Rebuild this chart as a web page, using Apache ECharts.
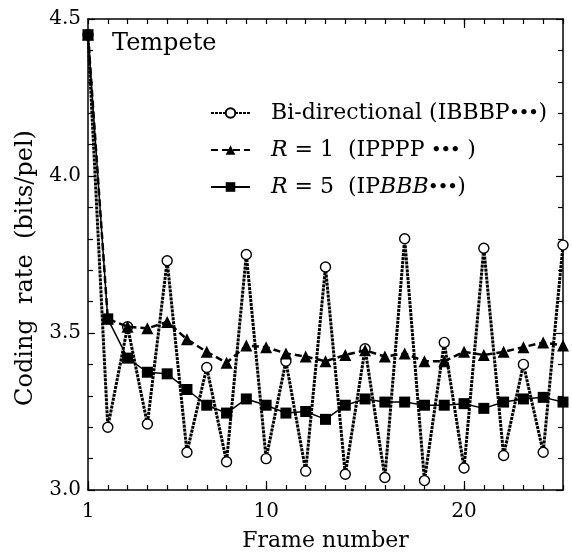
<!DOCTYPE html>
<html>
<head>
<meta charset="utf-8">
<script src="https://cdn.jsdelivr.net/npm/echarts@6/dist/echarts.min.js"></script>
<style>
  html, body { margin: 0; padding: 0; background: #fff; }
  #chart { width: 572px; height: 557px; }
</style>
</head>
<body>
<div id="chart"></div>
<script>
// frame numbers 1..25
var frames = [1, 2, 3, 4, 5, 6, 7, 8, 9, 10, 11, 12, 13, 14, 15, 16, 17, 18, 19, 20, 21, 22, 23, 24, 25];
// bits/pel
var biDirectional = [4.45, 3.20, 3.52, 3.21, 3.73, 3.12, 3.39, 3.09, 3.75, 3.10, 3.41, 3.06, 3.71, 3.05, 3.45, 3.04, 3.80, 3.03, 3.47, 3.07, 3.77, 3.11, 3.40, 3.12, 3.78];
var rateR1 = [4.45, 3.545, 3.52, 3.515, 3.535, 3.48, 3.44, 3.405, 3.46, 3.455, 3.435, 3.425, 3.41, 3.43, 3.445, 3.425, 3.435, 3.41, 3.41, 3.44, 3.43, 3.44, 3.455, 3.47, 3.46];
var rateR5 = [4.45, 3.545, 3.42, 3.375, 3.37, 3.32, 3.27, 3.245, 3.29, 3.27, 3.245, 3.25, 3.225, 3.27, 3.29, 3.28, 3.28, 3.27, 3.27, 3.275, 3.26, 3.28, 3.29, 3.295, 3.28];
var xLabels = [1, 10, 20];
var seriesNames = ['Bi-directional (IBBBP•••)', 'R = 1  (IPPPP •••)', 'R = 5  (IPBBB•••)'];

var font = 'DejaVu Serif';
var chart = echarts.init(document.getElementById('chart'), null, { renderer: 'canvas' });

function pairs(vals) {
  return frames.map(function (f, i) { return [f, vals[i]]; });
}

// shared look for the four framing axes (ticks point inside)
function frameAxis(extra) {
  var base = {
    axisLine: { show: true, lineStyle: { color: '#000', width: 1.5 } },
    axisTick: { show: true, inside: true, length: 5, lineStyle: { color: '#000', width: 1.2 } },
    axisLabel: { show: false },
    splitLine: { show: false }
  };
  return Object.assign(base, extra);
}

var option = {
  animation: false,
  backgroundColor: '#fff',
  textStyle: { fontFamily: font, color: '#000' },
  title: {
    text: 'Tempete',
    left: 107, top: 27,
    textStyle: { fontFamily: font, fontSize: 24, fontWeight: 'normal', color: '#000' }
  },
  legend: {
    orient: 'vertical',
    left: 210, top: 100,
    padding: 0,
    itemWidth: 39, itemHeight: 12,
    itemGap: 11,
    data: seriesNames,
    textStyle: {
      fontFamily: font, fontSize: 22, color: '#000', lineHeight: 26,
      padding: [0, 0, 0, 16],
      rich: {
        i: { fontFamily: font, fontStyle: 'italic', fontSize: 22, lineHeight: 26 },
        d: { fontFamily: font, fontSize: 15, fontWeight: 'bold', lineHeight: 26 }
      }
    },
    formatter: function (name) {
      if (name === seriesNames[0]) return 'Bi-directional (IBBBP{d|•••})';
      if (name === seriesNames[1]) return '{i|R} = 1  (IPPPP {d|•••} )';
      return '{i|R} = 5  (IP{i|BBB}{d|•••})';
    }
  },
  grid: { left: 88, right: 9, top: 19, bottom: 63, containLabel: false },
  xAxis: [
    frameAxis({
      type: 'value', min: 1, max: 25, interval: 1, position: 'bottom',
      name: 'Frame number', nameLocation: 'middle', nameGap: 40,
      nameTextStyle: { fontFamily: font, fontSize: 22, color: '#000' },
      axisLabel: {
        show: true, color: '#000', fontFamily: font, fontSize: 20, margin: 12,
        customValues: xLabels
      }
    }),
    frameAxis({ type: 'value', min: 1, max: 25, interval: 1, position: 'top' }),
    frameAxis({
      type: 'value', min: 1, max: 25, position: 'bottom',
      axisLine: { show: false },
      axisTick: { show: true, inside: true, length: 9, customValues: xLabels, lineStyle: { color: '#000', width: 1.2 } }
    }),
    frameAxis({
      type: 'value', min: 1, max: 25, position: 'top',
      axisLine: { show: false },
      axisTick: { show: true, inside: true, length: 9, customValues: [20], lineStyle: { color: '#000', width: 1.2 } }
    })
  ],
  yAxis: [
    frameAxis({
      type: 'value', min: 3, max: 4.5, interval: 0.5, position: 'left',
      name: 'Coding  rate  (bits/pel)', nameLocation: 'middle', nameGap: 50,
      nameTextStyle: { fontFamily: font, fontSize: 24, color: '#000', padding: [0, 27, 0, 0] },
      axisTick: { show: true, inside: true, length: 7, lineStyle: { color: '#000', width: 1.2 } },
      minorTick: { show: true, splitNumber: 5, length: 5, lineStyle: { color: '#000', width: 1.2 } },
      axisLabel: {
        show: true, color: '#000', fontFamily: font, fontSize: 20, margin: 7,
        formatter: function (v) { return v.toFixed(1); }
      }
    }),
    frameAxis({
      type: 'value', min: 3, max: 4.5, interval: 0.5, position: 'right',
      axisTick: { show: true, inside: true, length: 7, lineStyle: { color: '#000', width: 1.2 } },
      minorTick: { show: true, splitNumber: 5, length: 5, lineStyle: { color: '#000', width: 1.2 } }
    })
  ],
  series: [
    {
      name: seriesNames[0], type: 'line', data: pairs(biDirectional),
      symbol: 'circle', symbolSize: 10,
      itemStyle: { color: '#fff', borderColor: '#000', borderWidth: 1.4 },
      lineStyle: { color: '#000', width: 3, type: [3, 1] },
      z: 2
    },
    {
      name: seriesNames[1], type: 'line', data: pairs(rateR1),
      symbol: 'triangle', symbolSize: 12,
      itemStyle: { color: '#000' },
      lineStyle: { color: '#000', width: 2.5, type: [7, 4] },
      z: 3
    },
    {
      name: seriesNames[2], type: 'line', data: pairs(rateR5),
      symbol: 'rect', symbolSize: 11,
      itemStyle: { color: '#000' },
      lineStyle: { color: '#000', width: 1.5, type: 'solid' },
      z: 4
    }
  ]
};

chart.setOption(option);
</script>
</body>
</html>
